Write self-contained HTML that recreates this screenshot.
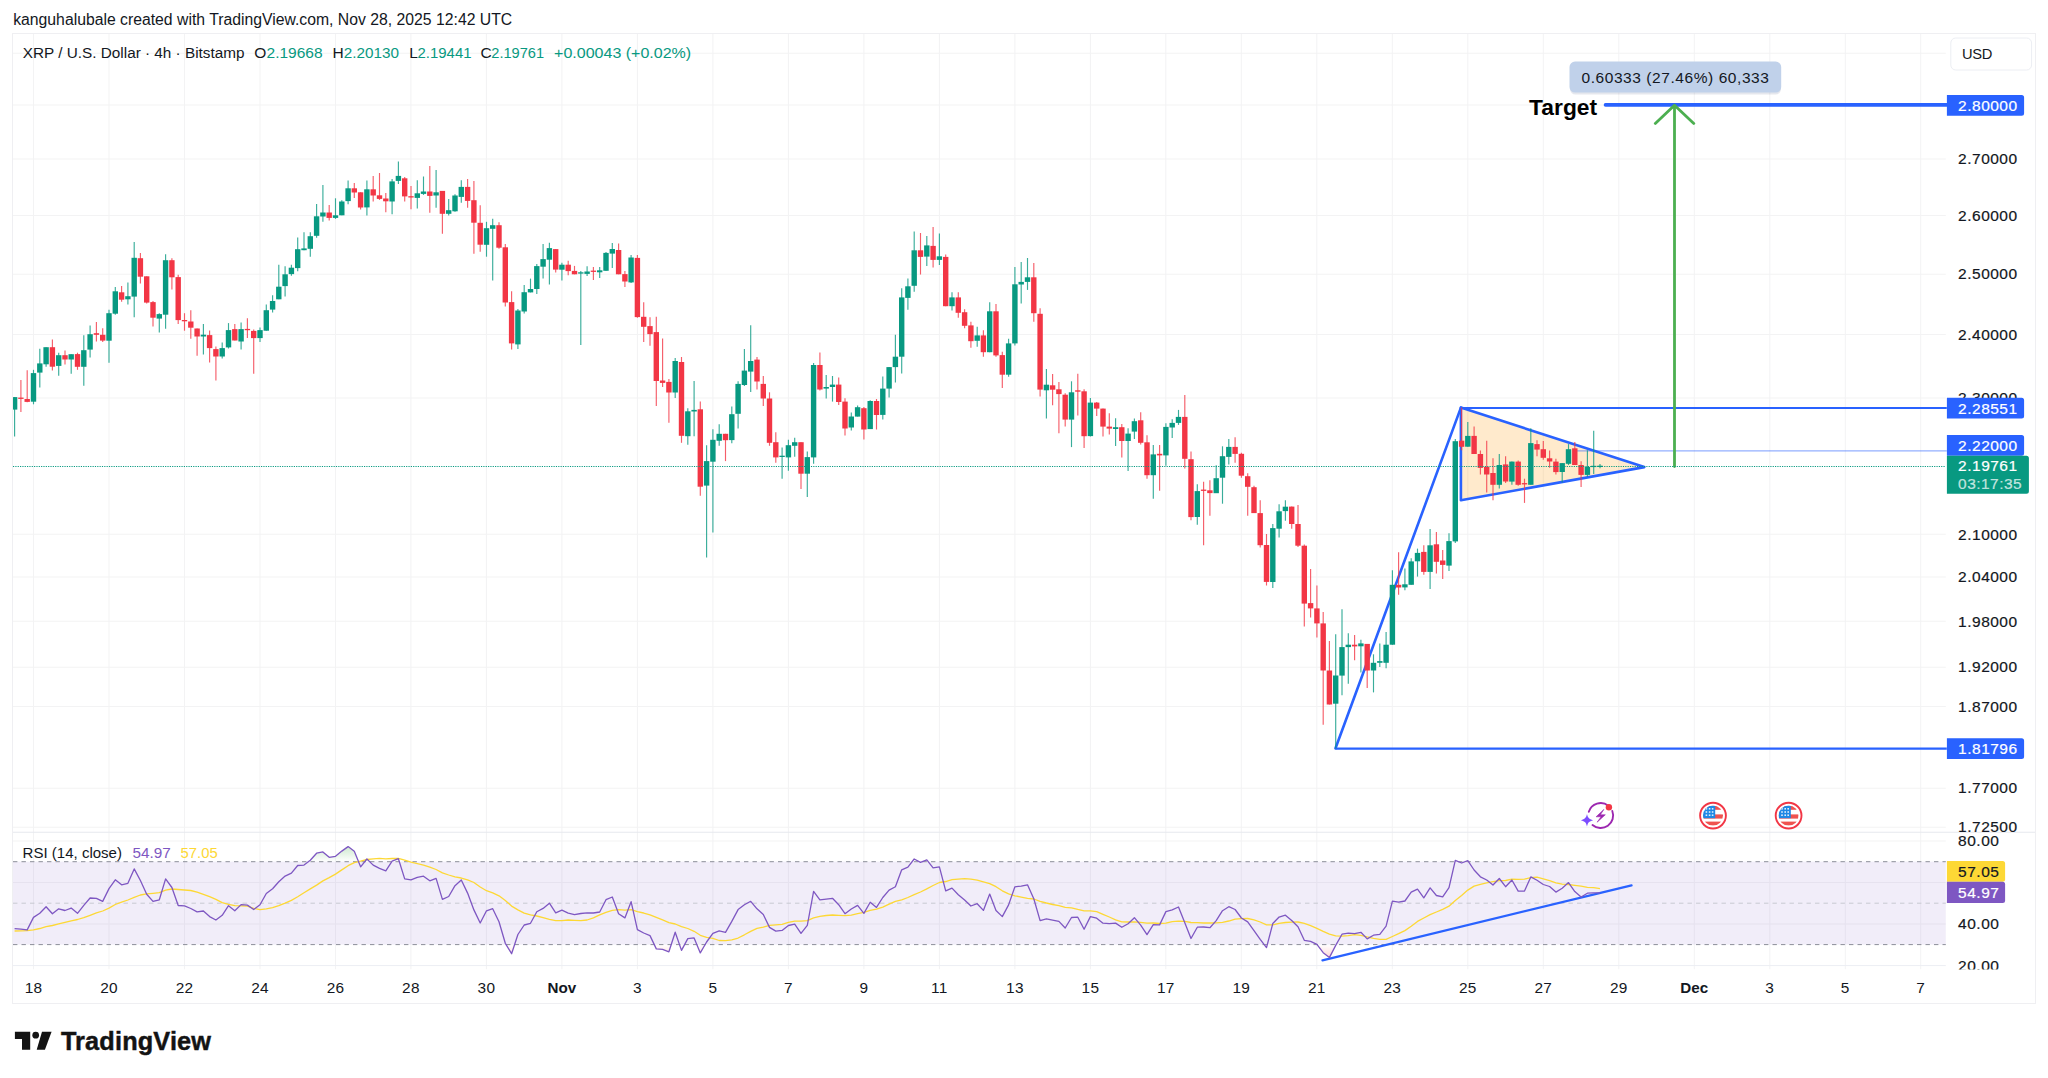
<!DOCTYPE html>
<html><head><meta charset="utf-8"><title>XRP / U.S. Dollar 4h chart</title>
<style>html,body{margin:0;padding:0;background:#fff}body{width:2048px;height:1078px;position:relative;overflow:hidden}</style>
</head><body>
<svg width="2048" height="1078" viewBox="0 0 2048 1078" style="display:block;position:absolute;left:0;top:0" font-family="Liberation Sans, sans-serif">
<rect width="2048" height="1078" fill="#fff"/>
<path d="M33.5 34V969.3 M109.0 34V969.3 M184.5 34V969.3 M260.0 34V969.3 M335.5 34V969.3 M410.9 34V969.3 M486.4 34V969.3 M561.9 34V969.3 M637.4 34V969.3 M712.9 34V969.3 M788.4 34V969.3 M863.9 34V969.3 M939.4 34V969.3 M1014.9 34V969.3 M1090.4 34V969.3 M1165.8 34V969.3 M1241.3 34V969.3 M1316.8 34V969.3 M1392.3 34V969.3 M1467.8 34V969.3 M1543.3 34V969.3 M1618.8 34V969.3 M1694.3 34V969.3 M1769.8 34V969.3 M1845.3 34V969.3 M1920.7 34V969.3 M13 53.3H1945.8 M13 105.0H1945.8 M13 159.0H1945.8 M13 215.4H1945.8 M13 274.2H1945.8 M13 334.5H1945.8 M13 398.0H1945.8 M13 534.3H1945.8 M13 576.9H1945.8 M13 621.3H1945.8 M13 667.2H1945.8 M13 706.4H1945.8 M13 788.2H1945.8 M13 827.3H1945.8 M13 841.0H1945.8 M13 882.5H1945.8 M13 923.9H1945.8" stroke="#f3f3f4" stroke-width="1.05" fill="none"/>
<rect x="13" y="861.7" width="1932.8" height="82.9" fill="#7e57c2" fill-opacity="0.105"/>
<defs><linearGradient id="gob" gradientUnits="userSpaceOnUse" x1="0" x2="0" y1="861.7" y2="828.6"><stop offset="0" stop-color="#4caf50" stop-opacity="0"/><stop offset="1" stop-color="#4caf50" stop-opacity="0.6"/></linearGradient><linearGradient id="gos" gradientUnits="userSpaceOnUse" x1="0" x2="0" y1="944.6" y2="977.8"><stop offset="0" stop-color="#ff5252" stop-opacity="0"/><stop offset="1" stop-color="#ff5252" stop-opacity="0.6"/></linearGradient></defs><polygon points="308.4,861.7 310.3,860.3 316.6,853.2 322.9,851.9 329.2,857.3 335.5,856.3 341.8,851.1 348.1,846.6 354.3,851.2 358.6,861.7" fill="url(#gob)"/><polygon points="364.8,861.7 366.9,859.0 369.7,861.7" fill="url(#gob)"/><polygon points="391.7,861.7 392.1,861.1 398.4,858.7 399.3,861.7" fill="url(#gob)"/><polygon points="912.1,861.7 914.2,859.0 919.2,861.7" fill="url(#gob)"/><polygon points="922.2,861.7 926.8,859.8 928.4,861.7" fill="url(#gob)"/><polygon points="1454.9,861.7 1455.3,860.3 1458.5,861.7" fill="url(#gob)"/><polygon points="1465.0,861.7 1467.8,860.6 1468.6,861.7" fill="url(#gob)"/><polygon points="506.1,944.6 511.6,953.7 514.6,944.6" fill="url(#gos)"/><polygon points="654.3,944.6 656.3,948.9 662.6,949.4 668.9,951.8 671.2,944.6" fill="url(#gos)"/><polygon points="679.5,944.6 681.5,950.4 684.6,944.6" fill="url(#gos)"/><polygon points="696.9,944.6 700.3,952.9 705.1,944.6" fill="url(#gos)"/><polygon points="1264.3,944.6 1266.5,947.6 1267.3,944.6" fill="url(#gos)"/><polygon points="1317.1,944.6 1323.2,952.7 1329.4,957.6 1335.7,945.4 1336.2,944.6" fill="url(#gos)"/>
<path d="M13 861.7H1945.8" stroke="#868993" stroke-width="0.95" stroke-dasharray="4.4 4.1" fill="none"/>
<path d="M13 903.2H1945.8" stroke="#c5c7cf" stroke-width="0.95" stroke-dasharray="4.4 4.1" fill="none"/>
<path d="M13 944.6H1945.8" stroke="#868993" stroke-width="0.95" stroke-dasharray="4.4 4.1" fill="none"/>
<path d="M13 965.6H1945.8" stroke="#eceef3" stroke-width="1"/>
<rect x="12.5" y="33.5" width="2023" height="970" fill="none" stroke="#efeff2" stroke-width="1"/>
<path d="M13 832.3H2035" stroke="#e6e8ee" stroke-width="1.1"/>
<path d="M1460.9 407.6L1644.3 467.1L1460.9 500.3Z" fill="#ff9800" fill-opacity="0.2" stroke="none"/>
<path d="M1460.9 407.6L1644.3 467.1L1460.9 500.3Z" fill="none" stroke="#2962ff" stroke-width="2.6" stroke-linejoin="round"/>
<path d="M1335.5 748.3L1460.9 407.6" stroke="#2962ff" stroke-width="2.6" stroke-linecap="round" fill="none"/>
<path d="M1460.9 408H1946.8" stroke="#2962ff" stroke-width="2.2" fill="none"/>
<path d="M1335.5 748.6H1946.8" stroke="#2962ff" stroke-width="2.2" fill="none"/>
<path d="M1577 450.9H1946.8" stroke="#2962ff" stroke-opacity="0.5" stroke-width="1.4" fill="none"/>
<path d="M1605.5 104.9H1946.8" stroke="#2962ff" stroke-width="3.6" stroke-linecap="round" fill="none"/>
<path d="M1674.5 466.5V106 M1655.3 123.4L1674.5 105.2L1693.8 123.4" stroke="#4caf50" stroke-width="2.8" stroke-linecap="round" stroke-linejoin="round" fill="none"/>
<text x="1529.1" y="115.2" font-size="21.8" font-weight="700" fill="#000" textLength="68" lengthAdjust="spacingAndGlyphs">Target</text>
<rect x="1570" y="63.6" width="211" height="31" rx="5.5" fill="#5b6b8c" fill-opacity="0.16"/>
<rect x="1569.5" y="61.6" width="211.7" height="30.9" rx="5.5" fill="#c0d1ea"/>
<text x="1581.5" y="83" font-size="15.5" fill="#131722" textLength="187.4" lengthAdjust="spacing">0.60333 (27.46%) 60,333</text>
<g stroke-width="1.15" stroke-opacity="0.8" fill="none"><path d="M14.6 397.1V436.4" stroke="#089981"/><path d="M20.9 380.0V412.1" stroke="#f23645"/><path d="M27.2 370.2V402.3" stroke="#f23645"/><path d="M33.5 369.8V404.3" stroke="#089981"/><path d="M39.8 348.8V387.4" stroke="#089981"/><path d="M46.1 347.2V366.7" stroke="#089981"/><path d="M52.4 339.4V370.6" stroke="#f23645"/><path d="M58.7 352.7V375.7" stroke="#089981"/><path d="M65.0 350.4V364.4" stroke="#f23645"/><path d="M71.2 354.2V373.7" stroke="#089981"/><path d="M77.5 352.7V369.8" stroke="#f23645"/><path d="M83.8 335.2V385.8" stroke="#089981"/><path d="M90.1 325.4V357.6" stroke="#089981"/><path d="M96.4 322.1V341.4" stroke="#f23645"/><path d="M102.7 328.3V342.0" stroke="#f23645"/><path d="M109.0 309.8V362.8" stroke="#089981"/><path d="M115.3 287.1V314.7" stroke="#089981"/><path d="M121.6 285.9V301.7" stroke="#f23645"/><path d="M127.9 282.6V304.6" stroke="#089981"/><path d="M134.2 242.1V317.2" stroke="#089981"/><path d="M140.4 253.0V283.6" stroke="#f23645"/><path d="M146.7 276.3V303.6" stroke="#f23645"/><path d="M153.0 301.1V326.4" stroke="#f23645"/><path d="M159.3 313.3V332.6" stroke="#089981"/><path d="M165.6 254.3V328.7" stroke="#089981"/><path d="M171.9 258.2V289.4" stroke="#f23645"/><path d="M178.2 274.8V324.1" stroke="#f23645"/><path d="M184.5 313.2V330.7" stroke="#f23645"/><path d="M190.8 310.2V338.7" stroke="#f23645"/><path d="M197.1 328.5V355.8" stroke="#f23645"/><path d="M203.4 323.9V354.4" stroke="#089981"/><path d="M209.6 330.5V362.4" stroke="#f23645"/><path d="M215.9 346.5V380.4" stroke="#f23645"/><path d="M222.2 342.5V358.4" stroke="#089981"/><path d="M228.5 323.1V348.5" stroke="#089981"/><path d="M234.8 323.9V340.5" stroke="#f23645"/><path d="M241.1 322.5V349.5" stroke="#089981"/><path d="M247.4 318.2V338.1" stroke="#f23645"/><path d="M253.7 329.5V373.8" stroke="#f23645"/><path d="M260.0 327.5V341.9" stroke="#089981"/><path d="M266.3 304.6V330.7" stroke="#089981"/><path d="M272.6 295.2V312.6" stroke="#089981"/><path d="M278.8 264.7V299.2" stroke="#089981"/><path d="M285.1 266.3V296.6" stroke="#089981"/><path d="M291.4 264.7V275.7" stroke="#089981"/><path d="M297.7 237.4V271.3" stroke="#089981"/><path d="M304.0 232.2V250.2" stroke="#089981"/><path d="M310.3 232.2V256.7" stroke="#089981"/><path d="M316.6 203.9V237.8" stroke="#089981"/><path d="M322.9 185.0V221.8" stroke="#089981"/><path d="M329.2 204.9V220.4" stroke="#f23645"/><path d="M335.5 198.3V218.9" stroke="#089981"/><path d="M341.8 200.3V215.3" stroke="#089981"/><path d="M348.1 180.4V204.3" stroke="#089981"/><path d="M354.3 183.0V197.9" stroke="#f23645"/><path d="M360.6 192.3V209.5" stroke="#f23645"/><path d="M366.9 180.4V215.5" stroke="#089981"/><path d="M373.2 176.0V201.5" stroke="#f23645"/><path d="M379.5 173.0V199.9" stroke="#f23645"/><path d="M385.8 192.9V212.3" stroke="#f23645"/><path d="M392.1 179.0V214.3" stroke="#089981"/><path d="M398.4 161.4V183.9" stroke="#089981"/><path d="M404.7 176.9V201.4" stroke="#f23645"/><path d="M411.0 185.9V209.2" stroke="#f23645"/><path d="M417.3 180.3V208.4" stroke="#089981"/><path d="M423.5 176.5V194.9" stroke="#089981"/><path d="M429.8 166.0V212.8" stroke="#f23645"/><path d="M436.1 169.9V207.8" stroke="#089981"/><path d="M442.4 190.9V233.7" stroke="#f23645"/><path d="M448.7 198.9V215.4" stroke="#089981"/><path d="M455.0 194.3V211.8" stroke="#089981"/><path d="M461.3 180.3V202.8" stroke="#089981"/><path d="M467.6 178.9V207.8" stroke="#f23645"/><path d="M473.9 180.9V253.7" stroke="#f23645"/><path d="M480.2 205.2V251.7" stroke="#f23645"/><path d="M486.5 221.8V256.7" stroke="#089981"/><path d="M492.7 218.8V280.6" stroke="#089981"/><path d="M499.0 222.2V248.7" stroke="#f23645"/><path d="M505.3 244.1V306.5" stroke="#f23645"/><path d="M511.6 291.2V349.4" stroke="#f23645"/><path d="M517.9 309.1V349.0" stroke="#089981"/><path d="M524.2 285.0V313.5" stroke="#089981"/><path d="M530.5 278.6V292.4" stroke="#089981"/><path d="M536.8 264.1V294.0" stroke="#089981"/><path d="M543.1 244.1V278.6" stroke="#089981"/><path d="M549.4 242.7V284.6" stroke="#089981"/><path d="M555.7 249.1V272.6" stroke="#f23645"/><path d="M561.9 262.7V280.6" stroke="#089981"/><path d="M568.2 260.7V275.2" stroke="#f23645"/><path d="M574.5 265.9V274.3" stroke="#f23645"/><path d="M580.8 270.9V345.1" stroke="#089981"/><path d="M587.1 266.3V275.9" stroke="#089981"/><path d="M593.4 266.9V279.9" stroke="#f23645"/><path d="M599.7 266.9V277.9" stroke="#089981"/><path d="M606.0 252.0V270.9" stroke="#089981"/><path d="M612.3 243.0V267.9" stroke="#089981"/><path d="M618.6 243.4V274.3" stroke="#f23645"/><path d="M624.9 270.9V286.9" stroke="#f23645"/><path d="M631.1 254.9V282.9" stroke="#089981"/><path d="M637.4 254.9V317.8" stroke="#f23645"/><path d="M643.7 302.2V342.1" stroke="#f23645"/><path d="M650.0 317.2V345.7" stroke="#f23645"/><path d="M656.3 316.8V405.9" stroke="#f23645"/><path d="M662.6 338.4V386.9" stroke="#f23645"/><path d="M668.9 378.9V422.8" stroke="#f23645"/><path d="M675.2 358.0V397.9" stroke="#089981"/><path d="M681.5 357.0V442.8" stroke="#f23645"/><path d="M687.8 408.3V444.8" stroke="#089981"/><path d="M694.1 380.9V436.2" stroke="#089981"/><path d="M700.3 401.5V495.7" stroke="#f23645"/><path d="M706.6 445.2V557.5" stroke="#089981"/><path d="M712.9 429.2V532.6" stroke="#089981"/><path d="M719.2 424.2V445.8" stroke="#089981"/><path d="M725.5 433.8V461.1" stroke="#f23645"/><path d="M731.8 406.5V443.2" stroke="#089981"/><path d="M738.1 381.3V428.4" stroke="#089981"/><path d="M744.4 349.0V385.9" stroke="#089981"/><path d="M750.7 325.3V391.9" stroke="#089981"/><path d="M757.0 357.0V389.5" stroke="#f23645"/><path d="M763.3 375.9V405.9" stroke="#f23645"/><path d="M769.5 392.3V445.8" stroke="#f23645"/><path d="M775.8 432.2V462.7" stroke="#f23645"/><path d="M782.1 447.4V478.7" stroke="#089981"/><path d="M788.4 439.8V470.7" stroke="#089981"/><path d="M794.7 437.8V456.7" stroke="#089981"/><path d="M801.0 442.2V489.1" stroke="#f23645"/><path d="M807.3 451.4V497.0" stroke="#089981"/><path d="M813.6 363.0V463.7" stroke="#089981"/><path d="M819.9 352.4V390.5" stroke="#f23645"/><path d="M826.2 375.0V398.6" stroke="#089981"/><path d="M832.5 376.0V401.6" stroke="#089981"/><path d="M838.7 377.6V405.0" stroke="#f23645"/><path d="M845.0 398.2V435.5" stroke="#f23645"/><path d="M851.3 412.5V430.5" stroke="#089981"/><path d="M857.6 405.6V416.5" stroke="#089981"/><path d="M863.9 407.0V439.5" stroke="#f23645"/><path d="M870.2 400.2V429.1" stroke="#089981"/><path d="M876.5 399.0V429.5" stroke="#f23645"/><path d="M882.8 376.6V419.5" stroke="#089981"/><path d="M889.1 367.1V397.6" stroke="#089981"/><path d="M895.4 334.7V382.6" stroke="#089981"/><path d="M901.7 288.2V373.6" stroke="#089981"/><path d="M907.9 278.5V309.8" stroke="#089981"/><path d="M914.2 231.4V291.8" stroke="#089981"/><path d="M920.5 233.0V274.5" stroke="#f23645"/><path d="M926.8 236.0V265.9" stroke="#089981"/><path d="M933.1 227.0V267.5" stroke="#f23645"/><path d="M939.4 233.4V264.9" stroke="#089981"/><path d="M945.7 254.5V306.2" stroke="#f23645"/><path d="M952.0 292.2V310.4" stroke="#089981"/><path d="M958.3 292.2V317.8" stroke="#f23645"/><path d="M964.6 309.2V328.2" stroke="#f23645"/><path d="M970.9 321.8V347.7" stroke="#f23645"/><path d="M977.2 326.8V346.8" stroke="#089981"/><path d="M983.4 330.2V356.7" stroke="#f23645"/><path d="M989.7 302.3V352.2" stroke="#089981"/><path d="M996.0 303.9V356.7" stroke="#f23645"/><path d="M1002.3 351.8V388.1" stroke="#f23645"/><path d="M1008.6 338.8V376.7" stroke="#089981"/><path d="M1014.9 267.0V345.4" stroke="#089981"/><path d="M1021.2 262.0V303.5" stroke="#089981"/><path d="M1027.5 258.0V289.9" stroke="#089981"/><path d="M1033.8 263.0V321.8" stroke="#f23645"/><path d="M1040.1 308.3V396.6" stroke="#f23645"/><path d="M1046.4 369.1V418.6" stroke="#089981"/><path d="M1052.6 374.1V405.2" stroke="#f23645"/><path d="M1058.9 382.1V433.2" stroke="#f23645"/><path d="M1065.2 393.3V426.6" stroke="#f23645"/><path d="M1071.5 381.3V447.1" stroke="#089981"/><path d="M1077.8 373.7V415.6" stroke="#f23645"/><path d="M1084.1 389.3V447.9" stroke="#f23645"/><path d="M1090.4 398.0V436.6" stroke="#089981"/><path d="M1096.7 402.0V416.0" stroke="#f23645"/><path d="M1103.0 408.6V436.6" stroke="#f23645"/><path d="M1109.3 413.2V434.6" stroke="#f23645"/><path d="M1115.6 418.2V445.9" stroke="#089981"/><path d="M1121.8 424.0V457.5" stroke="#f23645"/><path d="M1128.1 428.2V471.1" stroke="#089981"/><path d="M1134.4 418.6V438.9" stroke="#089981"/><path d="M1140.7 412.3V444.5" stroke="#f23645"/><path d="M1147.0 435.3V478.8" stroke="#f23645"/><path d="M1153.3 444.9V498.7" stroke="#089981"/><path d="M1159.6 444.9V490.7" stroke="#f23645"/><path d="M1165.9 423.3V465.8" stroke="#089981"/><path d="M1172.2 419.3V437.9" stroke="#089981"/><path d="M1178.5 409.9V424.9" stroke="#089981"/><path d="M1184.8 395.0V468.4" stroke="#f23645"/><path d="M1191.0 451.4V520.3" stroke="#f23645"/><path d="M1197.3 484.2V524.7" stroke="#089981"/><path d="M1203.6 481.8V545.2" stroke="#f23645"/><path d="M1209.9 480.2V515.7" stroke="#f23645"/><path d="M1216.2 465.2V493.1" stroke="#089981"/><path d="M1222.5 446.3V503.7" stroke="#089981"/><path d="M1228.8 438.9V464.4" stroke="#089981"/><path d="M1235.1 437.3V462.8" stroke="#f23645"/><path d="M1241.4 452.8V477.8" stroke="#f23645"/><path d="M1247.7 473.2V515.7" stroke="#f23645"/><path d="M1254.0 485.8V513.1" stroke="#f23645"/><path d="M1260.2 500.3V547.6" stroke="#f23645"/><path d="M1266.5 534.0V585.5" stroke="#f23645"/><path d="M1272.8 524.1V587.9" stroke="#089981"/><path d="M1279.1 504.3V537.6" stroke="#089981"/><path d="M1285.4 500.3V520.7" stroke="#089981"/><path d="M1291.7 506.6V528.8" stroke="#f23645"/><path d="M1298.0 505.1V546.9" stroke="#f23645"/><path d="M1304.3 544.5V626.5" stroke="#f23645"/><path d="M1310.6 569.1V617.6" stroke="#f23645"/><path d="M1316.9 585.5V637.4" stroke="#f23645"/><path d="M1323.2 612.1V724.8" stroke="#f23645"/><path d="M1329.4 641.0V704.5" stroke="#f23645"/><path d="M1335.7 634.3V748.4" stroke="#089981"/><path d="M1342.0 609.2V695.3" stroke="#089981"/><path d="M1348.3 633.3V683.8" stroke="#089981"/><path d="M1354.6 635.0V660.3" stroke="#f23645"/><path d="M1360.9 639.8V672.4" stroke="#089981"/><path d="M1367.2 643.9V688.1" stroke="#f23645"/><path d="M1373.5 654.3V692.4" stroke="#089981"/><path d="M1379.8 643.4V666.9" stroke="#089981"/><path d="M1386.1 632.1V668.3" stroke="#089981"/><path d="M1392.4 570.3V644.7" stroke="#089981"/><path d="M1398.6 552.2V594.7" stroke="#f23645"/><path d="M1404.9 568.6V590.3" stroke="#089981"/><path d="M1411.2 558.2V584.8" stroke="#089981"/><path d="M1417.5 548.6V576.6" stroke="#089981"/><path d="M1423.8 545.3V574.8" stroke="#f23645"/><path d="M1430.1 529.1V589.0" stroke="#089981"/><path d="M1436.4 532.0V573.4" stroke="#f23645"/><path d="M1442.7 550.0V578.9" stroke="#f23645"/><path d="M1449.0 533.3V571.0" stroke="#089981"/><path d="M1455.3 439.1V543.0" stroke="#089981"/><path d="M1461.6 407.4V450.2" stroke="#f23645"/><path d="M1467.8 422.0V446.7" stroke="#089981"/><path d="M1474.1 426.4V454.0" stroke="#f23645"/><path d="M1480.4 450.5V474.5" stroke="#f23645"/><path d="M1486.7 440.7V492.6" stroke="#f23645"/><path d="M1493.0 458.3V500.2" stroke="#f23645"/><path d="M1499.3 454.0V488.6" stroke="#089981"/><path d="M1505.6 456.3V482.9" stroke="#f23645"/><path d="M1511.9 461.6V484.8" stroke="#089981"/><path d="M1518.2 460.6V485.7" stroke="#f23645"/><path d="M1524.5 478.7V502.9" stroke="#f23645"/><path d="M1530.8 428.3V484.8" stroke="#089981"/><path d="M1537.0 440.3V456.3" stroke="#f23645"/><path d="M1543.3 441.0V459.7" stroke="#f23645"/><path d="M1549.6 450.5V467.7" stroke="#f23645"/><path d="M1555.9 458.7V474.5" stroke="#f23645"/><path d="M1562.2 463.1V482.5" stroke="#089981"/><path d="M1568.5 444.1V465.0" stroke="#089981"/><path d="M1574.8 442.0V465.0" stroke="#f23645"/><path d="M1581.1 461.2V486.9" stroke="#f23645"/><path d="M1587.4 450.2V476.8" stroke="#089981"/><path d="M1593.7 430.8V473.9" stroke="#089981"/><path d="M1600.0 464.1V468.2" stroke="#089981"/></g>
<g><rect x="13.0" y="397.1" width="4.3" height="12.5" fill="#089981"/><rect x="18.2" y="397.6" width="5.4" height="1.3" fill="#f23645"/><rect x="24.5" y="399.0" width="5.4" height="2.9" fill="#f23645"/><rect x="30.8" y="373.1" width="5.4" height="28.6" fill="#089981"/><rect x="37.1" y="363.4" width="5.4" height="9.2" fill="#089981"/><rect x="43.4" y="347.2" width="5.4" height="17.1" fill="#089981"/><rect x="49.7" y="347.2" width="5.4" height="19.5" fill="#f23645"/><rect x="56.0" y="355.2" width="5.4" height="10.7" fill="#089981"/><rect x="62.3" y="355.2" width="5.4" height="4.3" fill="#f23645"/><rect x="68.5" y="354.2" width="5.4" height="5.3" fill="#089981"/><rect x="74.8" y="354.1" width="5.4" height="12.7" fill="#f23645"/><rect x="81.1" y="350.2" width="5.4" height="16.6" fill="#089981"/><rect x="87.4" y="334.2" width="5.4" height="15.4" fill="#089981"/><rect x="93.7" y="333.2" width="5.4" height="1.6" fill="#f23645"/><rect x="100.0" y="334.8" width="5.4" height="5.8" fill="#f23645"/><rect x="106.3" y="313.2" width="5.4" height="27.5" fill="#089981"/><rect x="112.6" y="291.3" width="5.4" height="22.4" fill="#089981"/><rect x="118.9" y="292.3" width="5.4" height="7.4" fill="#f23645"/><rect x="125.2" y="296.2" width="5.4" height="3.1" fill="#089981"/><rect x="131.5" y="257.8" width="5.4" height="38.8" fill="#089981"/><rect x="137.7" y="258.2" width="5.4" height="18.5" fill="#f23645"/><rect x="144.0" y="276.3" width="5.4" height="26.3" fill="#f23645"/><rect x="150.3" y="302.1" width="5.4" height="15.6" fill="#f23645"/><rect x="156.6" y="314.1" width="5.4" height="4.5" fill="#089981"/><rect x="162.9" y="260.2" width="5.4" height="54.5" fill="#089981"/><rect x="169.2" y="260.2" width="5.4" height="17.1" fill="#f23645"/><rect x="175.5" y="277.1" width="5.4" height="43.0" fill="#f23645"/><rect x="181.8" y="320.0" width="5.4" height="1.3" fill="#f23645"/><rect x="188.1" y="321.5" width="5.4" height="6.2" fill="#f23645"/><rect x="194.4" y="328.5" width="5.4" height="8.0" fill="#f23645"/><rect x="200.7" y="334.7" width="5.4" height="1.8" fill="#089981"/><rect x="206.9" y="335.1" width="5.4" height="13.0" fill="#f23645"/><rect x="213.2" y="349.1" width="5.4" height="7.4" fill="#f23645"/><rect x="219.5" y="348.1" width="5.4" height="8.4" fill="#089981"/><rect x="225.8" y="330.1" width="5.4" height="17.3" fill="#089981"/><rect x="232.1" y="329.1" width="5.4" height="11.4" fill="#f23645"/><rect x="238.4" y="329.1" width="5.4" height="12.4" fill="#089981"/><rect x="244.7" y="328.9" width="5.4" height="1.3" fill="#f23645"/><rect x="251.0" y="330.9" width="5.4" height="7.2" fill="#f23645"/><rect x="257.3" y="330.1" width="5.4" height="8.0" fill="#089981"/><rect x="263.6" y="310.2" width="5.4" height="20.5" fill="#089981"/><rect x="269.9" y="301.0" width="5.4" height="8.6" fill="#089981"/><rect x="276.1" y="286.7" width="5.4" height="12.6" fill="#089981"/><rect x="282.4" y="274.3" width="5.4" height="11.8" fill="#089981"/><rect x="288.7" y="267.7" width="5.4" height="6.4" fill="#089981"/><rect x="295.0" y="249.2" width="5.4" height="18.9" fill="#089981"/><rect x="301.3" y="248.4" width="5.4" height="1.8" fill="#089981"/><rect x="307.6" y="236.2" width="5.4" height="12.6" fill="#089981"/><rect x="313.9" y="216.3" width="5.4" height="19.5" fill="#089981"/><rect x="320.2" y="212.5" width="5.4" height="4.0" fill="#089981"/><rect x="326.5" y="212.5" width="5.4" height="5.4" fill="#f23645"/><rect x="332.8" y="215.3" width="5.4" height="2.6" fill="#089981"/><rect x="339.1" y="201.5" width="5.4" height="13.8" fill="#089981"/><rect x="345.4" y="188.3" width="5.4" height="12.8" fill="#089981"/><rect x="351.6" y="188.3" width="5.4" height="4.2" fill="#f23645"/><rect x="357.9" y="192.3" width="5.4" height="15.2" fill="#f23645"/><rect x="364.2" y="189.3" width="5.4" height="18.1" fill="#089981"/><rect x="370.5" y="189.3" width="5.4" height="6.2" fill="#f23645"/><rect x="376.8" y="195.3" width="5.4" height="3.6" fill="#f23645"/><rect x="383.1" y="198.5" width="5.4" height="2.8" fill="#f23645"/><rect x="389.4" y="181.4" width="5.4" height="20.1" fill="#089981"/><rect x="395.7" y="175.9" width="5.4" height="5.0" fill="#089981"/><rect x="402.0" y="178.3" width="5.4" height="18.1" fill="#f23645"/><rect x="408.3" y="196.2" width="5.4" height="1.3" fill="#f23645"/><rect x="414.6" y="193.3" width="5.4" height="4.6" fill="#089981"/><rect x="420.8" y="191.5" width="5.4" height="2.4" fill="#089981"/><rect x="427.1" y="191.5" width="5.4" height="4.4" fill="#f23645"/><rect x="433.4" y="192.3" width="5.4" height="3.2" fill="#089981"/><rect x="439.7" y="190.9" width="5.4" height="22.9" fill="#f23645"/><rect x="446.0" y="210.2" width="5.4" height="3.6" fill="#089981"/><rect x="452.3" y="195.5" width="5.4" height="15.8" fill="#089981"/><rect x="458.6" y="186.9" width="5.4" height="10.0" fill="#089981"/><rect x="464.9" y="186.9" width="5.4" height="14.0" fill="#f23645"/><rect x="471.2" y="200.2" width="5.4" height="22.5" fill="#f23645"/><rect x="477.5" y="222.8" width="5.4" height="21.9" fill="#f23645"/><rect x="483.8" y="228.2" width="5.4" height="16.6" fill="#089981"/><rect x="490.0" y="225.2" width="5.4" height="3.6" fill="#089981"/><rect x="496.3" y="225.2" width="5.4" height="22.5" fill="#f23645"/><rect x="502.6" y="247.3" width="5.4" height="55.2" fill="#f23645"/><rect x="508.9" y="302.1" width="5.4" height="41.3" fill="#f23645"/><rect x="515.2" y="310.5" width="5.4" height="33.9" fill="#089981"/><rect x="521.5" y="292.2" width="5.4" height="19.3" fill="#089981"/><rect x="527.8" y="289.0" width="5.4" height="3.4" fill="#089981"/><rect x="534.1" y="266.1" width="5.4" height="22.9" fill="#089981"/><rect x="540.4" y="259.1" width="5.4" height="7.6" fill="#089981"/><rect x="546.7" y="248.1" width="5.4" height="11.6" fill="#089981"/><rect x="553.0" y="249.1" width="5.4" height="20.5" fill="#f23645"/><rect x="559.2" y="264.7" width="5.4" height="5.0" fill="#089981"/><rect x="565.5" y="264.7" width="5.4" height="6.4" fill="#f23645"/><rect x="571.8" y="270.9" width="5.4" height="3.4" fill="#f23645"/><rect x="578.1" y="272.3" width="5.4" height="1.3" fill="#089981"/><rect x="584.4" y="271.5" width="5.4" height="2.4" fill="#089981"/><rect x="590.7" y="270.6" width="5.4" height="1.3" fill="#f23645"/><rect x="597.0" y="270.3" width="5.4" height="2.0" fill="#089981"/><rect x="603.3" y="252.9" width="5.4" height="17.9" fill="#089981"/><rect x="609.6" y="249.0" width="5.4" height="4.6" fill="#089981"/><rect x="615.9" y="250.0" width="5.4" height="24.3" fill="#f23645"/><rect x="622.2" y="274.1" width="5.4" height="7.4" fill="#f23645"/><rect x="628.4" y="257.5" width="5.4" height="24.9" fill="#089981"/><rect x="634.7" y="257.9" width="5.4" height="59.2" fill="#f23645"/><rect x="641.0" y="316.8" width="5.4" height="10.0" fill="#f23645"/><rect x="647.3" y="326.1" width="5.4" height="8.0" fill="#f23645"/><rect x="653.6" y="332.1" width="5.4" height="48.9" fill="#f23645"/><rect x="659.9" y="380.5" width="5.4" height="2.4" fill="#f23645"/><rect x="666.2" y="381.9" width="5.4" height="10.6" fill="#f23645"/><rect x="672.5" y="361.0" width="5.4" height="31.5" fill="#089981"/><rect x="678.8" y="362.0" width="5.4" height="73.8" fill="#f23645"/><rect x="685.1" y="411.3" width="5.4" height="24.9" fill="#089981"/><rect x="691.4" y="409.9" width="5.4" height="1.6" fill="#089981"/><rect x="697.6" y="409.3" width="5.4" height="77.4" fill="#f23645"/><rect x="703.9" y="461.1" width="5.4" height="24.5" fill="#089981"/><rect x="710.2" y="439.8" width="5.4" height="21.9" fill="#089981"/><rect x="716.5" y="433.8" width="5.4" height="7.0" fill="#089981"/><rect x="722.8" y="433.8" width="5.4" height="6.4" fill="#f23645"/><rect x="729.1" y="414.2" width="5.4" height="25.9" fill="#089981"/><rect x="735.4" y="383.9" width="5.4" height="29.9" fill="#089981"/><rect x="741.7" y="370.6" width="5.4" height="14.4" fill="#089981"/><rect x="748.0" y="361.0" width="5.4" height="10.6" fill="#089981"/><rect x="754.3" y="359.6" width="5.4" height="21.9" fill="#f23645"/><rect x="760.6" y="383.9" width="5.4" height="14.6" fill="#f23645"/><rect x="766.8" y="398.5" width="5.4" height="44.3" fill="#f23645"/><rect x="773.1" y="442.2" width="5.4" height="15.2" fill="#f23645"/><rect x="779.4" y="455.7" width="5.4" height="1.3" fill="#089981"/><rect x="785.7" y="445.2" width="5.4" height="12.2" fill="#089981"/><rect x="792.0" y="442.2" width="5.4" height="3.6" fill="#089981"/><rect x="798.3" y="442.2" width="5.4" height="31.5" fill="#f23645"/><rect x="804.6" y="457.1" width="5.4" height="16.6" fill="#089981"/><rect x="810.9" y="365.0" width="5.4" height="92.4" fill="#089981"/><rect x="817.2" y="365.0" width="5.4" height="24.5" fill="#f23645"/><rect x="823.5" y="387.0" width="5.4" height="1.6" fill="#089981"/><rect x="829.8" y="384.6" width="5.4" height="2.4" fill="#089981"/><rect x="836.0" y="384.6" width="5.4" height="17.4" fill="#f23645"/><rect x="842.3" y="401.6" width="5.4" height="26.9" fill="#f23645"/><rect x="848.6" y="416.5" width="5.4" height="11.0" fill="#089981"/><rect x="854.9" y="407.2" width="5.4" height="9.4" fill="#089981"/><rect x="861.2" y="408.2" width="5.4" height="21.3" fill="#f23645"/><rect x="867.5" y="401.0" width="5.4" height="28.1" fill="#089981"/><rect x="873.8" y="401.0" width="5.4" height="14.0" fill="#f23645"/><rect x="880.1" y="388.6" width="5.4" height="26.3" fill="#089981"/><rect x="886.4" y="367.1" width="5.4" height="21.5" fill="#089981"/><rect x="892.7" y="356.7" width="5.4" height="10.4" fill="#089981"/><rect x="899.0" y="297.4" width="5.4" height="59.3" fill="#089981"/><rect x="905.2" y="286.3" width="5.4" height="11.6" fill="#089981"/><rect x="911.5" y="250.3" width="5.4" height="35.5" fill="#089981"/><rect x="917.8" y="250.3" width="5.4" height="6.6" fill="#f23645"/><rect x="924.1" y="245.4" width="5.4" height="11.2" fill="#089981"/><rect x="930.4" y="245.9" width="5.4" height="14.0" fill="#f23645"/><rect x="936.7" y="256.3" width="5.4" height="3.6" fill="#089981"/><rect x="943.0" y="256.9" width="5.4" height="49.3" fill="#f23645"/><rect x="949.3" y="297.4" width="5.4" height="8.8" fill="#089981"/><rect x="955.6" y="297.4" width="5.4" height="15.4" fill="#f23645"/><rect x="961.9" y="312.2" width="5.4" height="13.6" fill="#f23645"/><rect x="968.2" y="325.4" width="5.4" height="15.8" fill="#f23645"/><rect x="974.5" y="335.4" width="5.4" height="5.4" fill="#089981"/><rect x="980.7" y="335.4" width="5.4" height="16.8" fill="#f23645"/><rect x="987.0" y="311.3" width="5.4" height="40.9" fill="#089981"/><rect x="993.3" y="311.3" width="5.4" height="44.1" fill="#f23645"/><rect x="999.6" y="355.1" width="5.4" height="19.6" fill="#f23645"/><rect x="1005.9" y="343.4" width="5.4" height="31.3" fill="#089981"/><rect x="1012.2" y="284.3" width="5.4" height="59.1" fill="#089981"/><rect x="1018.5" y="281.9" width="5.4" height="2.6" fill="#089981"/><rect x="1024.8" y="277.3" width="5.4" height="4.6" fill="#089981"/><rect x="1031.1" y="277.3" width="5.4" height="35.9" fill="#f23645"/><rect x="1037.4" y="313.8" width="5.4" height="75.8" fill="#f23645"/><rect x="1043.7" y="384.7" width="5.4" height="5.6" fill="#089981"/><rect x="1049.9" y="385.3" width="5.4" height="4.4" fill="#f23645"/><rect x="1056.2" y="389.3" width="5.4" height="4.8" fill="#f23645"/><rect x="1062.5" y="394.7" width="5.4" height="24.9" fill="#f23645"/><rect x="1068.8" y="392.3" width="5.4" height="27.3" fill="#089981"/><rect x="1075.1" y="390.3" width="5.4" height="1.4" fill="#f23645"/><rect x="1081.4" y="391.3" width="5.4" height="44.9" fill="#f23645"/><rect x="1087.7" y="402.6" width="5.4" height="33.5" fill="#089981"/><rect x="1094.0" y="402.6" width="5.4" height="6.0" fill="#f23645"/><rect x="1100.3" y="408.6" width="5.4" height="18.0" fill="#f23645"/><rect x="1106.6" y="426.6" width="5.4" height="2.0" fill="#f23645"/><rect x="1112.9" y="427.2" width="5.4" height="1.8" fill="#089981"/><rect x="1119.1" y="427.2" width="5.4" height="13.8" fill="#f23645"/><rect x="1125.4" y="433.6" width="5.4" height="7.4" fill="#089981"/><rect x="1131.7" y="421.2" width="5.4" height="10.4" fill="#089981"/><rect x="1138.0" y="420.3" width="5.4" height="22.5" fill="#f23645"/><rect x="1144.3" y="442.3" width="5.4" height="32.9" fill="#f23645"/><rect x="1150.6" y="454.4" width="5.4" height="20.8" fill="#089981"/><rect x="1156.9" y="453.8" width="5.4" height="1.6" fill="#f23645"/><rect x="1163.2" y="426.9" width="5.4" height="28.5" fill="#089981"/><rect x="1169.5" y="422.9" width="5.4" height="4.6" fill="#089981"/><rect x="1175.8" y="416.9" width="5.4" height="6.0" fill="#089981"/><rect x="1182.1" y="416.9" width="5.4" height="41.9" fill="#f23645"/><rect x="1188.3" y="459.2" width="5.4" height="57.9" fill="#f23645"/><rect x="1194.6" y="491.1" width="5.4" height="25.9" fill="#089981"/><rect x="1200.9" y="489.6" width="5.4" height="1.3" fill="#f23645"/><rect x="1207.2" y="490.3" width="5.4" height="2.8" fill="#f23645"/><rect x="1213.5" y="478.2" width="5.4" height="15.0" fill="#089981"/><rect x="1219.8" y="456.2" width="5.4" height="21.5" fill="#089981"/><rect x="1226.1" y="446.9" width="5.4" height="10.0" fill="#089981"/><rect x="1232.4" y="446.9" width="5.4" height="7.0" fill="#f23645"/><rect x="1238.7" y="453.8" width="5.4" height="21.9" fill="#f23645"/><rect x="1245.0" y="476.2" width="5.4" height="10.6" fill="#f23645"/><rect x="1251.3" y="487.2" width="5.4" height="25.9" fill="#f23645"/><rect x="1257.5" y="513.1" width="5.4" height="32.1" fill="#f23645"/><rect x="1263.8" y="545.0" width="5.4" height="36.9" fill="#f23645"/><rect x="1270.1" y="528.1" width="5.4" height="53.9" fill="#089981"/><rect x="1276.4" y="511.3" width="5.4" height="17.4" fill="#089981"/><rect x="1282.7" y="506.7" width="5.4" height="4.4" fill="#089981"/><rect x="1289.0" y="506.6" width="5.4" height="17.4" fill="#f23645"/><rect x="1295.3" y="524.0" width="5.4" height="21.7" fill="#f23645"/><rect x="1301.6" y="545.7" width="5.4" height="57.9" fill="#f23645"/><rect x="1307.9" y="603.1" width="5.4" height="5.3" fill="#f23645"/><rect x="1314.2" y="608.4" width="5.4" height="15.0" fill="#f23645"/><rect x="1320.5" y="623.4" width="5.4" height="47.1" fill="#f23645"/><rect x="1326.7" y="670.5" width="5.4" height="34.0" fill="#f23645"/><rect x="1333.0" y="675.5" width="5.4" height="28.2" fill="#089981"/><rect x="1339.3" y="647.1" width="5.4" height="28.5" fill="#089981"/><rect x="1345.6" y="644.7" width="5.4" height="2.4" fill="#089981"/><rect x="1351.9" y="644.7" width="5.4" height="1.7" fill="#f23645"/><rect x="1358.2" y="643.4" width="5.4" height="2.9" fill="#089981"/><rect x="1364.5" y="643.9" width="5.4" height="26.6" fill="#f23645"/><rect x="1370.8" y="662.8" width="5.4" height="7.7" fill="#089981"/><rect x="1377.1" y="661.1" width="5.4" height="1.7" fill="#089981"/><rect x="1383.4" y="644.7" width="5.4" height="18.1" fill="#089981"/><rect x="1389.7" y="584.8" width="5.4" height="59.9" fill="#089981"/><rect x="1395.9" y="584.8" width="5.4" height="2.7" fill="#f23645"/><rect x="1402.2" y="584.3" width="5.4" height="3.1" fill="#089981"/><rect x="1408.5" y="561.4" width="5.4" height="23.4" fill="#089981"/><rect x="1414.8" y="552.9" width="5.4" height="8.4" fill="#089981"/><rect x="1421.1" y="551.9" width="5.4" height="20.0" fill="#f23645"/><rect x="1427.4" y="545.3" width="5.4" height="26.6" fill="#089981"/><rect x="1433.7" y="544.3" width="5.4" height="17.5" fill="#f23645"/><rect x="1440.0" y="560.5" width="5.4" height="4.4" fill="#f23645"/><rect x="1446.3" y="541.1" width="5.4" height="24.5" fill="#089981"/><rect x="1452.6" y="441.2" width="5.4" height="100.2" fill="#089981"/><rect x="1458.9" y="440.7" width="5.4" height="6.1" fill="#f23645"/><rect x="1465.1" y="435.9" width="5.4" height="10.8" fill="#089981"/><rect x="1471.4" y="435.9" width="5.4" height="18.1" fill="#f23645"/><rect x="1477.7" y="454.0" width="5.4" height="13.9" fill="#f23645"/><rect x="1484.0" y="466.9" width="5.4" height="7.6" fill="#f23645"/><rect x="1490.3" y="473.0" width="5.4" height="11.8" fill="#f23645"/><rect x="1496.6" y="465.0" width="5.4" height="19.8" fill="#089981"/><rect x="1502.9" y="464.4" width="5.4" height="17.1" fill="#f23645"/><rect x="1509.2" y="461.6" width="5.4" height="20.0" fill="#089981"/><rect x="1515.5" y="461.6" width="5.4" height="23.2" fill="#f23645"/><rect x="1521.8" y="483.1" width="5.4" height="1.3" fill="#f23645"/><rect x="1528.1" y="443.1" width="5.4" height="41.7" fill="#089981"/><rect x="1534.3" y="444.1" width="5.4" height="5.5" fill="#f23645"/><rect x="1540.6" y="449.2" width="5.4" height="8.6" fill="#f23645"/><rect x="1546.9" y="458.3" width="5.4" height="3.2" fill="#f23645"/><rect x="1553.2" y="461.6" width="5.4" height="10.5" fill="#f23645"/><rect x="1559.5" y="463.1" width="5.4" height="8.9" fill="#089981"/><rect x="1565.8" y="449.2" width="5.4" height="14.6" fill="#089981"/><rect x="1572.1" y="448.3" width="5.4" height="16.7" fill="#f23645"/><rect x="1578.4" y="465.0" width="5.4" height="9.9" fill="#f23645"/><rect x="1584.7" y="466.9" width="5.4" height="8.0" fill="#089981"/><rect x="1591.0" y="465.8" width="5.4" height="1.3" fill="#089981"/><rect x="1597.3" y="465.7" width="5.4" height="1.3" fill="#089981"/></g>
<path d="M13 466.5H1945.8" stroke="#089981" stroke-width="1" stroke-dasharray="1.17 1.17" fill="none"/>
<path d="M1322.5 960.3L1631.5 885.3" stroke="#2962ff" stroke-width="2.3" stroke-linecap="round" fill="none"/>
<polyline points="14.6,931.0 20.9,930.8 27.2,930.7 33.5,929.8 39.8,928.5 46.1,926.7 52.4,925.5 58.7,923.9 65.0,922.4 71.2,920.8 77.5,919.5 83.8,917.6 90.1,915.3 96.4,912.9 102.7,911.0 109.0,908.1 115.3,904.5 121.6,902.2 127.9,900.0 134.2,897.3 140.4,895.0 146.7,893.9 153.0,893.3 159.3,892.7 165.6,890.2 171.9,889.0 178.2,889.5 184.5,890.0 190.8,890.5 197.1,892.2 203.4,894.4 209.6,896.7 215.9,899.3 222.2,902.6 228.5,904.4 234.8,905.6 241.1,905.8 247.4,906.2 253.7,908.4 260.0,909.6 266.3,908.8 272.6,907.6 278.8,905.6 285.1,903.1 291.4,900.4 297.7,896.7 304.0,892.8 310.3,888.9 316.6,885.1 322.9,880.9 329.2,877.6 335.5,874.1 341.8,869.9 348.1,865.7 354.3,862.7 360.6,861.2 366.9,859.5 373.2,858.8 379.5,858.4 385.8,858.8 392.1,858.5 398.4,858.4 404.7,860.2 411.0,862.2 417.3,863.6 423.5,865.1 429.8,867.2 436.1,869.5 442.4,872.9 448.7,875.0 455.0,876.9 461.3,878.0 467.6,879.8 473.9,882.5 480.2,887.0 486.5,890.7 492.7,892.8 499.0,895.8 505.3,900.5 511.6,906.1 517.9,909.9 524.2,913.2 530.5,914.9 536.8,916.0 543.1,917.7 549.4,919.3 555.7,920.7 561.9,920.7 568.2,920.0 574.5,920.3 580.8,920.7 587.1,920.0 593.4,917.9 599.7,914.9 606.0,912.4 612.3,910.4 618.6,909.7 624.9,910.2 631.1,909.7 637.4,911.6 643.7,913.0 650.0,914.8 656.3,917.4 662.6,919.9 668.9,922.6 675.2,924.0 681.5,926.6 687.8,928.5 694.1,931.3 700.3,935.3 706.6,937.3 712.9,938.4 719.2,940.5 725.5,940.7 731.8,939.8 738.1,938.0 744.4,934.8 750.7,931.4 757.0,928.3 763.3,927.1 769.5,925.4 775.8,924.9 782.1,924.3 788.4,922.4 794.7,921.1 801.0,921.1 807.3,920.7 813.6,917.8 819.9,916.3 826.2,915.5 832.5,915.0 838.7,915.3 845.0,915.6 851.3,915.2 857.6,913.7 863.9,912.4 870.2,910.4 876.5,909.1 882.8,907.2 889.1,904.1 895.4,901.3 901.7,899.8 907.9,897.5 914.2,894.6 920.5,892.0 926.8,888.8 933.1,885.5 939.4,882.5 945.7,881.5 952.0,879.7 958.3,879.1 964.6,878.6 970.9,879.2 977.2,880.2 983.4,881.9 989.7,883.6 996.0,886.7 1002.3,890.8 1008.6,893.9 1014.9,895.8 1021.2,897.1 1027.5,898.4 1033.8,899.0 1040.1,901.3 1046.4,903.0 1052.6,904.5 1058.9,905.6 1065.2,907.3 1071.5,907.8 1077.8,909.4 1084.1,910.8 1090.4,910.8 1096.7,911.7 1103.0,914.3 1109.3,917.0 1115.6,919.8 1121.8,921.8 1128.1,922.0 1134.4,921.9 1140.7,922.3 1147.0,923.2 1153.3,923.0 1159.6,923.5 1165.9,923.1 1172.2,921.7 1178.5,921.1 1184.8,921.4 1191.0,922.5 1197.3,922.7 1203.6,923.0 1209.9,923.0 1216.2,922.8 1222.5,922.3 1228.8,921.0 1235.1,919.2 1241.4,918.7 1247.7,918.5 1254.0,919.9 1260.2,922.0 1266.5,924.9 1272.8,924.9 1279.1,923.4 1285.4,922.5 1291.7,922.1 1298.0,922.0 1304.3,923.4 1310.6,925.6 1316.9,928.3 1323.2,931.4 1329.4,934.2 1335.7,935.9 1342.0,936.1 1348.3,935.7 1354.6,934.7 1360.9,935.3 1367.2,936.9 1373.5,938.3 1379.8,939.3 1386.1,939.3 1392.4,936.5 1398.6,933.7 1404.9,930.6 1411.2,926.3 1417.5,921.4 1423.8,918.0 1430.1,914.7 1436.4,912.0 1442.7,909.4 1449.0,906.2 1455.3,900.5 1461.6,895.4 1467.8,890.1 1474.1,886.1 1480.4,884.4 1486.7,882.8 1493.0,881.6 1499.3,880.7 1505.6,880.5 1511.9,879.2 1518.2,879.4 1524.5,879.1 1530.8,877.7 1537.0,877.2 1543.3,878.9 1549.6,880.6 1555.9,882.8 1562.2,884.1 1568.5,884.5 1574.8,885.4 1581.1,886.2 1587.4,887.3 1593.7,887.7 1600.0,888.6" fill="none" stroke="#fdd835" stroke-width="1.3" stroke-linejoin="round"/><polyline points="14.6,928.7 20.9,929.1 27.2,929.9 33.5,917.4 39.8,913.3 46.1,906.7 52.4,913.7 58.7,908.8 65.0,910.5 71.2,908.1 77.5,913.3 83.8,905.3 90.1,898.0 96.4,898.3 102.7,901.4 109.0,888.6 115.3,879.8 121.6,884.8 127.9,883.3 134.2,868.9 140.4,880.5 146.7,894.3 153.0,901.4 159.3,899.8 165.6,878.9 171.9,887.5 178.2,905.5 184.5,905.9 190.8,908.5 197.1,911.9 203.4,911.0 209.6,916.6 215.9,920.0 222.2,915.3 228.5,905.7 234.8,910.7 241.1,904.6 247.4,905.1 253.7,909.5 260.0,904.7 266.3,893.5 272.6,888.8 278.8,881.7 285.1,876.1 291.4,873.2 297.7,865.5 304.0,865.1 310.3,860.3 316.6,853.2 322.9,851.9 329.2,857.3 335.5,856.3 341.8,851.1 348.1,846.6 354.3,851.2 360.6,866.8 366.9,859.0 373.2,865.1 379.5,868.4 385.8,870.9 392.1,861.1 398.4,858.7 404.7,878.9 411.0,879.8 417.3,877.3 423.5,876.2 429.8,880.8 436.1,878.4 442.4,899.4 448.7,896.5 455.0,885.7 461.3,880.0 467.6,893.1 473.9,909.9 480.2,923.0 486.5,910.8 492.7,908.7 499.0,921.7 505.3,943.3 511.6,953.7 517.9,934.5 524.2,925.0 530.5,923.3 536.8,911.8 543.1,908.4 549.4,903.2 555.7,912.8 561.9,910.2 568.2,913.1 574.5,914.6 580.8,913.5 587.1,912.9 593.4,913.0 599.7,912.0 606.0,899.7 612.3,897.0 618.6,913.8 624.9,917.9 631.1,901.7 637.4,929.7 643.7,933.0 650.0,935.6 656.3,948.9 662.6,949.4 668.9,951.8 675.2,932.2 681.5,950.4 687.8,938.6 694.1,937.9 700.3,952.9 706.6,942.0 712.9,933.3 719.2,930.9 725.5,932.4 731.8,921.4 738.1,909.6 744.4,904.8 750.7,901.3 757.0,908.8 763.3,914.5 769.5,927.4 775.8,931.1 782.1,930.4 788.4,925.5 794.7,924.1 801.0,933.4 807.3,925.4 813.6,891.4 819.9,899.9 826.2,899.1 832.5,898.3 838.7,904.7 845.0,913.7 851.3,909.0 857.6,905.4 863.9,913.4 870.2,902.2 876.5,907.4 882.8,897.5 889.1,890.1 895.4,886.7 901.7,869.8 907.9,867.1 914.2,859.0 920.5,862.4 926.8,859.8 933.1,867.8 939.4,866.8 945.7,890.9 952.0,888.1 958.3,894.7 964.6,900.0 970.9,906.0 977.2,903.7 983.4,910.4 989.7,894.1 996.0,910.5 1002.3,916.6 1008.6,904.9 1014.9,886.8 1021.2,886.1 1027.5,884.8 1033.8,898.8 1040.1,920.6 1046.4,918.9 1052.6,920.2 1058.9,921.4 1065.2,928.0 1071.5,917.5 1077.8,917.2 1084.1,929.2 1090.4,916.6 1096.7,918.2 1103.0,923.2 1109.3,923.7 1115.6,923.1 1121.8,927.3 1128.1,923.7 1134.4,917.7 1140.7,925.2 1147.0,934.6 1153.3,924.6 1159.6,924.9 1165.9,911.6 1172.2,909.8 1178.5,907.0 1184.8,922.8 1191.0,938.5 1197.3,927.2 1203.6,927.0 1209.9,927.7 1216.2,920.6 1222.5,910.7 1228.8,906.7 1235.1,909.5 1241.4,918.0 1247.7,921.9 1254.0,930.6 1260.2,939.4 1266.5,947.6 1272.8,923.5 1279.1,917.0 1285.4,915.2 1291.7,920.5 1298.0,926.8 1304.3,940.3 1310.6,941.3 1316.9,944.3 1323.2,952.7 1329.4,957.6 1335.7,945.4 1342.0,934.2 1348.3,933.2 1354.6,933.6 1360.9,932.3 1367.2,938.9 1373.5,935.2 1379.8,934.4 1386.1,926.2 1392.4,901.2 1398.6,902.2 1404.9,901.0 1411.2,892.2 1417.5,889.1 1423.8,897.9 1430.1,887.9 1436.4,895.5 1442.7,896.9 1449.0,887.6 1455.3,860.3 1461.6,863.0 1467.8,860.6 1474.1,870.0 1480.4,876.8 1486.7,880.0 1493.0,885.0 1499.3,878.5 1505.6,886.7 1511.9,880.0 1518.2,891.1 1524.5,891.0 1530.8,876.9 1537.0,880.3 1543.3,884.5 1549.6,886.5 1555.9,892.1 1562.2,888.3 1568.5,882.6 1574.8,891.6 1581.1,897.0 1587.4,893.2 1593.7,892.8 1600.0,892.8" fill="none" stroke="#7e57c2" stroke-width="1.3" stroke-linejoin="round"/>
<g transform="translate(1713 815.6)"><circle r="12.9" fill="#fff" stroke="#f23645" stroke-width="1.9"/><clipPath id="fc1713"><circle r="10"/></clipPath><g clip-path="url(#fc1713)"><rect x="-10" y="-10" width="20" height="20" fill="#fff"/><rect x="-10" y="-10" width="20" height="4.2" fill="#ef5350"/><rect x="-10" y="-1.2" width="20" height="4.2" fill="#ef5350"/><rect x="-10" y="6" width="20" height="4.2" fill="#ef5350"/><rect x="-10" y="-10" width="12.2" height="12.6" fill="#1e88e5"/><rect x="-7.3999999999999995" y="-7.6" width="1.6" height="1.6" fill="#fff" fill-opacity="0.85"/><rect x="-4.2" y="-7.6" width="1.6" height="1.6" fill="#fff" fill-opacity="0.85"/><rect x="-1.2000000000000002" y="-7.6" width="1.6" height="1.6" fill="#fff" fill-opacity="0.85"/><rect x="-7.3999999999999995" y="-4.4" width="1.6" height="1.6" fill="#fff" fill-opacity="0.85"/><rect x="-4.2" y="-4.4" width="1.6" height="1.6" fill="#fff" fill-opacity="0.85"/><rect x="-1.2000000000000002" y="-4.4" width="1.6" height="1.6" fill="#fff" fill-opacity="0.85"/><rect x="-7.3999999999999995" y="-1.2000000000000002" width="1.6" height="1.6" fill="#fff" fill-opacity="0.85"/><rect x="-4.2" y="-1.2000000000000002" width="1.6" height="1.6" fill="#fff" fill-opacity="0.85"/><rect x="-1.2000000000000002" y="-1.2000000000000002" width="1.6" height="1.6" fill="#fff" fill-opacity="0.85"/></g></g>
<g transform="translate(1788.6 815.6)"><circle r="12.9" fill="#fff" stroke="#f23645" stroke-width="1.9"/><clipPath id="fc1788"><circle r="10"/></clipPath><g clip-path="url(#fc1788)"><rect x="-10" y="-10" width="20" height="20" fill="#fff"/><rect x="-10" y="-10" width="20" height="4.2" fill="#ef5350"/><rect x="-10" y="-1.2" width="20" height="4.2" fill="#ef5350"/><rect x="-10" y="6" width="20" height="4.2" fill="#ef5350"/><rect x="-10" y="-10" width="12.2" height="12.6" fill="#1e88e5"/><rect x="-7.3999999999999995" y="-7.6" width="1.6" height="1.6" fill="#fff" fill-opacity="0.85"/><rect x="-4.2" y="-7.6" width="1.6" height="1.6" fill="#fff" fill-opacity="0.85"/><rect x="-1.2000000000000002" y="-7.6" width="1.6" height="1.6" fill="#fff" fill-opacity="0.85"/><rect x="-7.3999999999999995" y="-4.4" width="1.6" height="1.6" fill="#fff" fill-opacity="0.85"/><rect x="-4.2" y="-4.4" width="1.6" height="1.6" fill="#fff" fill-opacity="0.85"/><rect x="-1.2000000000000002" y="-4.4" width="1.6" height="1.6" fill="#fff" fill-opacity="0.85"/><rect x="-7.3999999999999995" y="-1.2000000000000002" width="1.6" height="1.6" fill="#fff" fill-opacity="0.85"/><rect x="-4.2" y="-1.2000000000000002" width="1.6" height="1.6" fill="#fff" fill-opacity="0.85"/><rect x="-1.2000000000000002" y="-1.2000000000000002" width="1.6" height="1.6" fill="#fff" fill-opacity="0.85"/></g></g>
<g transform="translate(1600.7 815.6)" fill="none"><path d="M7.6 -9.9A12.5 12.5 0 0 0 -11.9 -3.8" stroke="#9c27b0" stroke-width="1.9" stroke-linecap="round"/><path d="M11.6 -4.6A12.5 12.5 0 0 1 -8.2 9.4" stroke="#9c27b0" stroke-width="1.9" stroke-linecap="round"/><path d="M3.2 -6.2L-4.6 1.2H0.4L-3.6 6.6L4.6 -0.8H-0.4Z" fill="#9c27b0" stroke="#9c27b0" stroke-width="0.6" stroke-linejoin="round"/><circle cx="8.2" cy="-8.3" r="3.2" fill="#f23645"/><path d="M-13.7 -1.6C-12.9 2.2 -11.6 3.5 -7.6 4.6C-11.6 5.7 -12.9 7 -13.7 10.8C-14.5 7 -15.8 5.7 -19.8 4.6C-15.8 3.5 -14.5 2.2 -13.7 -1.6Z" fill="#7c4dff"/></g>
<text x="1958.1" y="164.2" font-size="15.5" stroke="#131722" stroke-width="0.2" fill="#131722" textLength="59" lengthAdjust="spacing">2.70000</text>
<text x="1958.1" y="220.6" font-size="15.5" stroke="#131722" stroke-width="0.2" fill="#131722" textLength="59" lengthAdjust="spacing">2.60000</text>
<text x="1958.1" y="279.4" font-size="15.5" stroke="#131722" stroke-width="0.2" fill="#131722" textLength="59" lengthAdjust="spacing">2.50000</text>
<text x="1958.1" y="339.7" font-size="15.5" stroke="#131722" stroke-width="0.2" fill="#131722" textLength="59" lengthAdjust="spacing">2.40000</text>
<text x="1958.1" y="403.2" font-size="15.5" stroke="#131722" stroke-width="0.2" fill="#131722" textLength="59" lengthAdjust="spacing">2.30000</text>
<text x="1958.1" y="539.5" font-size="15.5" stroke="#131722" stroke-width="0.2" fill="#131722" textLength="59" lengthAdjust="spacing">2.10000</text>
<text x="1958.1" y="582.1" font-size="15.5" stroke="#131722" stroke-width="0.2" fill="#131722" textLength="59" lengthAdjust="spacing">2.04000</text>
<text x="1958.1" y="626.5" font-size="15.5" stroke="#131722" stroke-width="0.2" fill="#131722" textLength="59" lengthAdjust="spacing">1.98000</text>
<text x="1958.1" y="672.4" font-size="15.5" stroke="#131722" stroke-width="0.2" fill="#131722" textLength="59" lengthAdjust="spacing">1.92000</text>
<text x="1958.1" y="711.6" font-size="15.5" stroke="#131722" stroke-width="0.2" fill="#131722" textLength="59" lengthAdjust="spacing">1.87000</text>
<text x="1958.1" y="793.4" font-size="15.5" stroke="#131722" stroke-width="0.2" fill="#131722" textLength="59" lengthAdjust="spacing">1.77000</text>
<text x="1958.1" y="831.9" font-size="15.5" stroke="#131722" stroke-width="0.2" fill="#131722" textLength="59" lengthAdjust="spacing">1.72500</text>
<clipPath id="rc"><rect x="1946" y="833" width="90" height="136.5"/></clipPath><g clip-path="url(#rc)">
<text x="1958.1" y="846.2" font-size="15.5" stroke="#131722" stroke-width="0.2" fill="#131722" textLength="40.8" lengthAdjust="spacing">80.00</text>
<text x="1958.1" y="929.1" font-size="15.5" stroke="#131722" stroke-width="0.2" fill="#131722" textLength="40.8" lengthAdjust="spacing">40.00</text>
<text x="1958.1" y="970.6" font-size="15.5" stroke="#131722" stroke-width="0.2" fill="#131722" textLength="40.8" lengthAdjust="spacing">20.00</text>
</g>
<path d="M1946.9 95.1H2021.6a2.5 2.5 0 0 1 2.5 2.5V113.2a2.5 2.5 0 0 1 -2.5 2.5H1946.9Z" fill="#2962ff"/>
<text x="1958.1" y="110.9" font-size="15.5" stroke="#fff" stroke-width="0.2" fill="#fff" textLength="59" lengthAdjust="spacing">2.80000</text>
<path d="M1946.9 397.8H2021.6a2.5 2.5 0 0 1 2.5 2.5V415.9a2.5 2.5 0 0 1 -2.5 2.5H1946.9Z" fill="#2962ff"/>
<text x="1958.1" y="413.6" font-size="15.5" stroke="#fff" stroke-width="0.2" fill="#fff" textLength="59" lengthAdjust="spacing">2.28551</text>
<path d="M1946.9 435.1H2021.6a2.5 2.5 0 0 1 2.5 2.5V453.2a2.5 2.5 0 0 1 -2.5 2.5H1946.9Z" fill="#2962ff"/>
<text x="1958.1" y="450.9" font-size="15.5" stroke="#fff" stroke-width="0.2" fill="#fff" textLength="59" lengthAdjust="spacing">2.22000</text>
<path d="M1946.9 738.3H2021.6a2.5 2.5 0 0 1 2.5 2.5V756.4a2.5 2.5 0 0 1 -2.5 2.5H1946.9Z" fill="#2962ff"/>
<text x="1958.1" y="754.1" font-size="15.5" stroke="#fff" stroke-width="0.2" fill="#fff" textLength="59" lengthAdjust="spacing">1.81796</text>
<path d="M1946.9 455.7H2026.4a2.5 2.5 0 0 1 2.5 2.5V491.3a2.5 2.5 0 0 1 -2.5 2.5H1946.9Z" fill="#089981"/>
<text x="1958.1" y="471.3" font-size="15.5" stroke="#fff" stroke-width="0.2" fill="#fff" textLength="59" lengthAdjust="spacing">2.19761</text>
<text x="1958.1" y="488.6" font-size="15.5" stroke="#fff" stroke-opacity="0.72" stroke-width="0.2" fill="#fff" fill-opacity="0.72" textLength="63.5" lengthAdjust="spacing">03:17:35</text>
<path d="M1946.9 861.0H2002.6a2.5 2.5 0 0 1 2.5 2.5V879.3a2.5 2.5 0 0 1 -2.5 2.5H1946.9Z" fill="#fdd835"/>
<text x="1958.1" y="876.9" font-size="15.5" stroke="#131722" stroke-width="0.2" fill="#131722" textLength="40.8" lengthAdjust="spacing">57.05</text>
<path d="M1946.9 881.8H2002.6a2.5 2.5 0 0 1 2.5 2.5V900.4a2.5 2.5 0 0 1 -2.5 2.5H1946.9Z" fill="#7e57c2"/>
<text x="1958.1" y="897.8" font-size="15.5" stroke="#fff" stroke-width="0.2" fill="#fff" textLength="40.8" lengthAdjust="spacing">54.97</text>
<rect x="1950.8" y="38" width="80.8" height="32" rx="5" fill="#fff" stroke="#eceef3" stroke-width="1"/>
<text x="1962.1" y="58.9" font-size="14.7" fill="#131722" textLength="30.3" lengthAdjust="spacing">USD</text>
<text x="33.5" y="993.2" font-size="15.4" fill="#131722" text-anchor="middle" letter-spacing="0.3">18</text>
<text x="109.0" y="993.2" font-size="15.4" fill="#131722" text-anchor="middle" letter-spacing="0.3">20</text>
<text x="184.5" y="993.2" font-size="15.4" fill="#131722" text-anchor="middle" letter-spacing="0.3">22</text>
<text x="260.0" y="993.2" font-size="15.4" fill="#131722" text-anchor="middle" letter-spacing="0.3">24</text>
<text x="335.5" y="993.2" font-size="15.4" fill="#131722" text-anchor="middle" letter-spacing="0.3">26</text>
<text x="410.9" y="993.2" font-size="15.4" fill="#131722" text-anchor="middle" letter-spacing="0.3">28</text>
<text x="486.4" y="993.2" font-size="15.4" fill="#131722" text-anchor="middle" letter-spacing="0.3">30</text>
<text x="561.9" y="993.2" font-size="15.2" font-weight="700" fill="#131722" text-anchor="middle">Nov</text>
<text x="637.4" y="993.2" font-size="15.4" fill="#131722" text-anchor="middle" letter-spacing="0.3">3</text>
<text x="712.9" y="993.2" font-size="15.4" fill="#131722" text-anchor="middle" letter-spacing="0.3">5</text>
<text x="788.4" y="993.2" font-size="15.4" fill="#131722" text-anchor="middle" letter-spacing="0.3">7</text>
<text x="863.9" y="993.2" font-size="15.4" fill="#131722" text-anchor="middle" letter-spacing="0.3">9</text>
<text x="939.4" y="993.2" font-size="15.4" fill="#131722" text-anchor="middle" letter-spacing="0.3">11</text>
<text x="1014.9" y="993.2" font-size="15.4" fill="#131722" text-anchor="middle" letter-spacing="0.3">13</text>
<text x="1090.4" y="993.2" font-size="15.4" fill="#131722" text-anchor="middle" letter-spacing="0.3">15</text>
<text x="1165.8" y="993.2" font-size="15.4" fill="#131722" text-anchor="middle" letter-spacing="0.3">17</text>
<text x="1241.3" y="993.2" font-size="15.4" fill="#131722" text-anchor="middle" letter-spacing="0.3">19</text>
<text x="1316.8" y="993.2" font-size="15.4" fill="#131722" text-anchor="middle" letter-spacing="0.3">21</text>
<text x="1392.3" y="993.2" font-size="15.4" fill="#131722" text-anchor="middle" letter-spacing="0.3">23</text>
<text x="1467.8" y="993.2" font-size="15.4" fill="#131722" text-anchor="middle" letter-spacing="0.3">25</text>
<text x="1543.3" y="993.2" font-size="15.4" fill="#131722" text-anchor="middle" letter-spacing="0.3">27</text>
<text x="1618.8" y="993.2" font-size="15.4" fill="#131722" text-anchor="middle" letter-spacing="0.3">29</text>
<text x="1694.3" y="993.2" font-size="15.2" font-weight="700" fill="#131722" text-anchor="middle">Dec</text>
<text x="1769.8" y="993.2" font-size="15.4" fill="#131722" text-anchor="middle" letter-spacing="0.3">3</text>
<text x="1845.3" y="993.2" font-size="15.4" fill="#131722" text-anchor="middle" letter-spacing="0.3">5</text>
<text x="1920.7" y="993.2" font-size="15.4" fill="#131722" text-anchor="middle" letter-spacing="0.3">7</text>
<text x="13.2" y="24.6" font-size="15.6" fill="#131722" textLength="499" lengthAdjust="spacingAndGlyphs">kanguhalubale created with TradingView.com, Nov 28, 2025 12:42 UTC</text>
<text x="22.8" y="58.4" font-size="15.5" fill="#131722" textLength="221.7" lengthAdjust="spacingAndGlyphs">XRP / U.S. Dollar · 4h · Bitstamp</text>
<text x="254.3" y="58.4" font-size="15.5" fill="#131722">O</text>
<text x="266.5" y="58.4" font-size="15.5" fill="#089981" textLength="56.1" lengthAdjust="spacingAndGlyphs">2.19668</text>
<text x="332.6" y="58.4" font-size="15.5" fill="#131722">H</text>
<text x="343.7" y="58.4" font-size="15.5" fill="#089981" textLength="55.2" lengthAdjust="spacingAndGlyphs">2.20130</text>
<text x="409.3" y="58.4" font-size="15.5" fill="#131722">L</text>
<text x="417.5" y="58.4" font-size="15.5" fill="#089981" textLength="54" lengthAdjust="spacingAndGlyphs">2.19441</text>
<text x="480.6" y="58.4" font-size="15.5" fill="#131722">C</text>
<text x="491.3" y="58.4" font-size="15.5" fill="#089981" textLength="52.8" lengthAdjust="spacingAndGlyphs">2.19761</text>
<text x="554.1" y="58.4" font-size="15.5" fill="#089981" textLength="137.1" lengthAdjust="spacingAndGlyphs">+0.00043 (+0.02%)</text>
<text x="22.6" y="857.9" font-size="15.5" fill="#131722" textLength="99.4" lengthAdjust="spacingAndGlyphs">RSI (14, close)</text>
<text x="132.6" y="857.9" font-size="15.5" fill="#7e57c2" textLength="38.3" lengthAdjust="spacingAndGlyphs">54.97</text>
<text x="180.5" y="857.9" font-size="15.5" fill="#fdd835" textLength="37.2" lengthAdjust="spacingAndGlyphs">57.05</text>
<path d="M14.9 1031.7H30.2V1049.8H22V1038.9H14.9Z" fill="#131313"/>
<circle cx="35.7" cy="1035.2" r="3.35" fill="#131313"/>
<path d="M42 1031.7H51.6L44.9 1049.8H36.7Z" fill="#131313"/>
<text x="60.9" y="1049.8" font-size="25.3" font-weight="700" stroke="#131313" stroke-width="0.45" fill="#131313" textLength="150.1" lengthAdjust="spacing">TradingView</text>
</svg>
</body></html>
